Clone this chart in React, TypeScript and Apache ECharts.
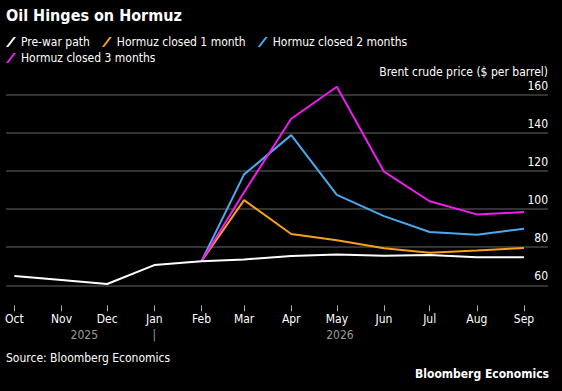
import React, { useEffect, useRef } from "react";
import * as echarts from "echarts";

const monthDates = [
  "2025-10-01", "2025-11-01", "2025-12-01", "2026-01-01", "2026-02-01", "2026-03-01",
  "2026-04-01", "2026-05-01", "2026-06-01", "2026-07-01", "2026-08-01", "2026-09-01",
];
const monthLabels = ["Oct", "Nov", "Dec", "Jan", "Feb", "Mar", "Apr", "May", "Jun", "Jul", "Aug", "Sep"];
const yearDates = ["2025-11-16", "2026-01-01", "2026-05-03"];
const yearLabels = ["2025", "|", "2026"];

const preWar = [64.9, 62.8, 60.7, 70.6, 72.6, 73.6, 75.4, 76.1, 75.5, 75.9, 74.7, 74.7];
// Scenarios start at Feb (index 4)
const scenarioStart = 4;
const closed1 = [72.6, 104.7, 86.9, 83.6, 79.4, 77.1, 78.2, 79.6];
const closed2 = [72.6, 118.2, 138.8, 107.4, 96.3, 88.0, 86.5, 89.7];
const closed3 = [72.6, 108.8, 147.4, 164.2, 119.6, 104.1, 97.2, 98.4];

const seriesNames = ["Pre-war path", "Hormuz closed 1 month", "Hormuz closed 2 months", "Hormuz closed 3 months"];
const colors = ["#ffffff", "#f7a11a", "#4ba9ee", "#f01cf0"];

const yTicks = { min: 60, max: 160, interval: 20 };

const FONT = "'DejaVu Sans Condensed', 'Liberation Sans', sans-serif";
const DAY = 86400000;

function ts(d: string) {
  const [y, m, dd] = d.split("-").map(Number);
  return Date.UTC(y, m - 1, dd);
}

export default function App() {
  const ref = useRef<HTMLDivElement>(null);
  useEffect(() => {
    if (!ref.current) return;
    const chart = echarts.init(ref.current, null, { renderer: "svg" });
    const monthTs = monthDates.map(ts);
    const yearTs = yearDates.map(ts);
    const xMin = monthTs[0] - 5.5 * DAY;
    const xMax = monthTs[monthTs.length - 1] + 15.8 * DAY;
    const nearest = (arr: number[], v: number) => {
      let bi = 0;
      for (let i = 0; i < arr.length; i++) if (Math.abs(arr[i] - v) < Math.abs(arr[bi] - v)) bi = i;
      return bi;
    };
    const scen = (vals: number[]) => vals.map((v, i) => [monthTs[scenarioStart + i], v]);
    const dataSets = [
      preWar.map((v, i) => [monthTs[i], v]),
      scen(closed1),
      scen(closed2),
      scen(closed3),
    ];
    const legendCommon = {
      icon: "path://M0,10 L2.4,10 L10,0 L7.6,0 Z",
      itemWidth: 10,
      itemHeight: 10,
      itemGap: 12,
      padding: 0,
      textStyle: { color: "#ffffff", fontSize: 12, fontFamily: FONT },
      itemStyle: { borderWidth: 0 },
      selectedMode: false,
    };
    chart.setOption({
      animation: false,
      backgroundColor: "#000000",
      title: {
        text: "Oil Hinges on Hormuz",
        left: 6,
        top: 7,
        padding: 0,
        textStyle: { color: "#ffffff", fontSize: 16, fontWeight: "bold", fontFamily: FONT },
      },
      legend: [
        { ...legendCommon, left: 6, top: 36, data: seriesNames.slice(0, 3) },
        { ...legendCommon, left: 6, top: 52, data: seriesNames.slice(3) },
      ],
      grid: { left: 6, right: 14, top: 94.7, bottom: 391 - 285.3, outerBoundsMode: "none", containLabel: false },
      xAxis: [
        {
          type: "value",
          min: xMin,
          max: xMax,
          position: "bottom",
          offset: 20,
          axisLine: { show: false },
          axisTick: { show: true, length: 6, customValues: monthTs, lineStyle: { color: "#aaaaaa", width: 1 } },
          splitLine: { show: false },
          axisLabel: {
            customValues: monthTs,
            formatter: (v: number) => monthLabels[nearest(monthTs, v)],
            color: "#ffffff",
            fontSize: 12,
            fontFamily: FONT,
            margin: 8,
          },
        },
        {
          type: "value",
          min: xMin,
          max: xMax,
          position: "bottom",
          offset: 20,
          axisLine: { show: false },
          axisTick: { show: false },
          splitLine: { show: false },
          axisLabel: {
            customValues: yearTs,
            formatter: (v: number) => yearLabels[nearest(yearTs, v)],
            color: "#9a9a9a",
            fontSize: 12,
            fontFamily: FONT,
            margin: 24,
          },
        },
      ],
      yAxis: {
        type: "value",
        position: "right",
        min: yTicks.min,
        max: yTicks.max,
        interval: yTicks.interval,
        axisLine: { show: false },
        axisTick: { show: false },
        splitLine: { lineStyle: { color: "#444444", width: 1.5 } },
        axisLabel: {
          inside: true,
          margin: 0,
          verticalAlign: "bottom",
          padding: [0, 0, 3, 0],
          color: "#ffffff",
          fontSize: 12,
          fontFamily: FONT,
        },
      },
      graphic: [
        {
          type: "text",
          right: 14,
          top: 66,
          style: { text: "Brent crude price ($ per barrel)", fill: "#ffffff", font: `12px ${FONT}` },
        },
        {
          type: "text",
          left: 6,
          top: 352,
          style: { text: "Source: Bloomberg Economics", fill: "#ffffff", font: `12px ${FONT}` },
        },
        {
          type: "text",
          right: 13,
          top: 368,
          style: { text: "Bloomberg Economics", fill: "#ffffff", font: `bold 12px ${FONT}` },
        },
      ],
      series: [1, 2, 3, 0].map((k) => ({
        name: seriesNames[k],
        type: "line",
        xAxisIndex: 0,
        data: dataSets[k],
        showSymbol: false,
        symbol: "none",
        clip: false,
        color: colors[k],
        lineStyle: { color: colors[k], width: 2 },
        itemStyle: { color: colors[k] },
      })),
    });
    return () => chart.dispose();
  }, []);
  return (
    <div
      ref={ref}
      style={{ position: "fixed", left: 0, top: 0, width: 562, height: 391, background: "#000" }}
    />
  );
}
